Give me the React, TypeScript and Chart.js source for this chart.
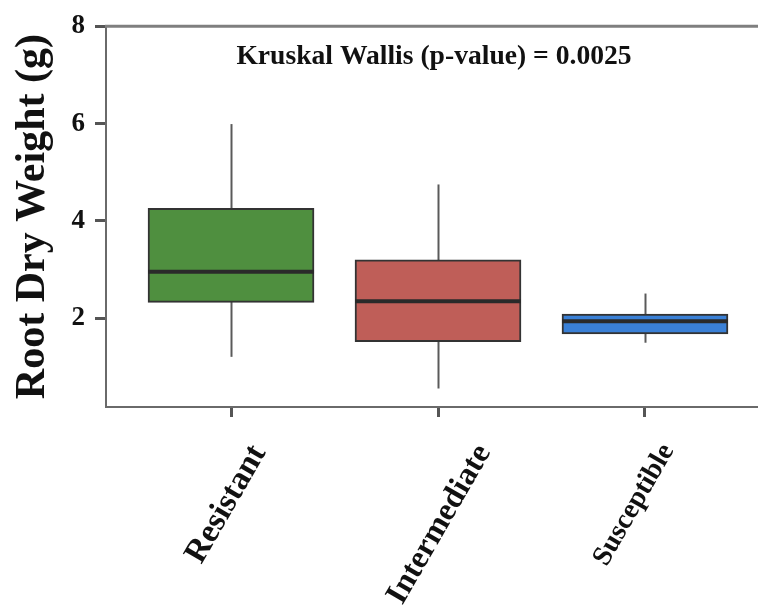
import React, { useEffect, useRef } from "react";
import { Chart, registerables } from "chart.js";

Chart.register(...registerables);

const categories = ["Resistant", "Intermediate", "Susceptible"];
const whiskerLow = [1.21, 0.56, 1.5];
const q1 = [2.33, 1.52, 1.68];
const median = [2.96, 2.35, 1.94];
const q3 = [4.26, 3.2, 2.09];
const whiskerHigh = [5.99, 4.75, 2.51];
const boxColors = ["#4f8f3f", "#bf5e58", "#3a80d6"];
const yTicks = [2, 4, 6, 8];
const annotation = "Kruskal Wallis (p-value) = 0.0025";

// label styling (per tick): font size and shift of the label anchor (in axis units)
const labelSizes = [33, 32, 28];
const labelShift = [0.135, 0.222, 0.111];

const X_MIN = -0.604;
const X_MAX = 2.546;

const SERIF = "'Liberation Serif', 'Times New Roman', serif";

const boxPlugin = {
  id: "boxExtras",
  beforeDatasetsDraw(chart: any) {
    const { ctx, scales } = chart;
    const x = scales.x;
    const y = scales.y;
    ctx.save();
    ctx.strokeStyle = "#5a5a5a";
    ctx.lineWidth = 2;
    categories.forEach((_, i) => {
      const px = Math.round(x.getPixelForValue(i)) + 0.5;
      ctx.beginPath();
      ctx.moveTo(px, y.getPixelForValue(whiskerLow[i]));
      ctx.lineTo(px, y.getPixelForValue(whiskerHigh[i]));
      ctx.stroke();
    });
    ctx.restore();
  },
  afterDatasetsDraw(chart: any) {
    const { ctx, scales, chartArea } = chart;
    const y = scales.y;
    const meta = chart.getDatasetMeta(0);
    ctx.save();
    ctx.strokeStyle = "#2a2a2a";
    ctx.lineWidth = 4;
    categories.forEach((_, i) => {
      const el: any = meta.data[i];
      const half = el.width / 2;
      const py = y.getPixelForValue(median[i]);
      ctx.beginPath();
      ctx.moveTo(el.x - half, py);
      ctx.lineTo(el.x + half, py);
      ctx.stroke();
    });
    // top border line
    ctx.strokeStyle = "#7f7f7f";
    ctx.lineWidth = 3;
    ctx.beginPath();
    ctx.moveTo(chartArea.left - 1, chartArea.top);
    ctx.lineTo(chartArea.right, chartArea.top);
    ctx.stroke();
    // annotation text
    ctx.fillStyle = "#111111";
    ctx.font = `bold 27.6px ${SERIF}`;
    ctx.textAlign = "center";
    ctx.textBaseline = "alphabetic";
    ctx.fillText(annotation, (chartArea.left + chartArea.right) / 2 + 2, chartArea.top + 38);
    ctx.restore();
  },
};

export default function App() {
  const ref = useRef<HTMLCanvasElement>(null);
  useEffect(() => {
    if (!ref.current) return;
    const chart = new Chart(ref.current, {
      type: "bar",
      data: {
        datasets: [
          {
            xAxisID: "x",
            data: categories.map((_, i) => ({ x: i, y: [q1[i], q3[i]] })) as any,
            backgroundColor: boxColors,
            borderColor: "#333333",
            borderWidth: 2,
            borderSkipped: false,
            barThickness: 166,
          },
        ],
      },
      options: {
        responsive: false,
        animation: false,
        layout: { padding: { top: 23, right: 0, left: 0, bottom: 0 } },
        plugins: {
          legend: { display: false },
          tooltip: { enabled: false },
        },
        scales: {
          x: {
            type: "linear",
            position: "bottom",
            weight: 0,
            offset: false,
            min: X_MIN,
            max: X_MAX,
            afterBuildTicks: (s: any) => {
              s.ticks = categories.map((_, i) => ({ value: i }));
            },
            afterFit: (s: any) => {
              s.height = 10;
              s.paddingRight = 0;
              s.paddingLeft = 0;
            },
            ticks: { display: false },
            grid: {
              display: true,
              offset: false,
              drawOnChartArea: false,
              tickLength: 10,
              tickColor: "#555555",
              tickWidth: 3,
            },
            border: { display: true, color: "#6a6a6a", width: 2 },
          },
          xLabels: {
            type: "linear",
            position: "bottom",
            weight: 1,
            offset: false,
            min: X_MIN,
            max: X_MAX,
            afterBuildTicks: (s: any) => {
              s.ticks = categories.map((_, i) => ({ value: i + labelShift[i] }));
            },
            afterFit: (s: any) => {
              s.height = 193;
              s.paddingRight = 0;
              s.paddingLeft = 0;
            },
            ticks: {
              callback: (_v: any, index: number) => categories[index] ?? "",
              minRotation: 60,
              maxRotation: 60,
              autoSkip: false,
              color: "#111111",
              padding: 13,
              font: (c: any) => ({ family: SERIF, size: labelSizes[c.index] ?? 32, weight: "bold" }),
            } as any,
            grid: { display: false },
            border: { display: false },
          },
          y: {
            min: 0.18,
            max: 8,
            afterBuildTicks: (s: any) => {
              s.ticks = yTicks.map((v) => ({ value: v }));
            },
            afterFit: (s: any) => {
              s.width = 106;
            },
            ticks: {
              color: "#111111",
              padding: 10,
              font: { family: SERIF, size: 27, weight: "bold" },
            },
            grid: {
              display: true,
              drawOnChartArea: false,
              tickLength: 11,
              tickColor: "#555555",
              tickWidth: 3,
            },
            border: { display: true, color: "#6a6a6a", width: 2 },
            title: {
              display: true,
              text: "Root Dry Weight (g)",
              color: "#111111",
              padding: { top: 8, bottom: 0 },
              font: { family: SERIF, size: 42, weight: "bold" },
            },
          },
        },
      },
      plugins: [boxPlugin],
    });
    return () => chart.destroy();
  }, []);
  return (
    <div style={{ position: "fixed", left: 0, top: 0, width: 758, height: 610, background: "#fff" }}>
      <canvas ref={ref} width={758} height={610} style={{ display: "block" }} />
    </div>
  );
}
